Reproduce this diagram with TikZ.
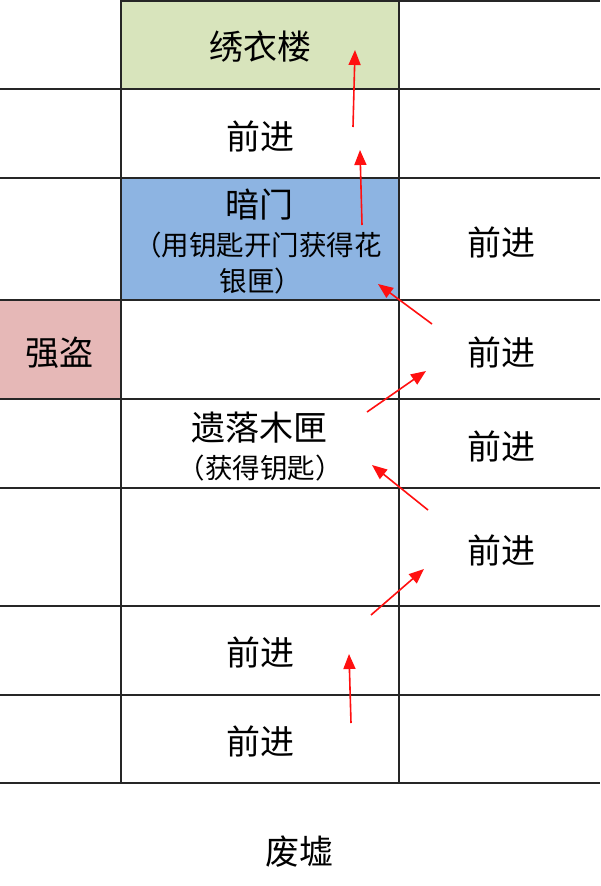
\documentclass[tikz,border=0pt]{standalone}
\usepackage{fontspec}
\setmainfont{Noto Sans CJK SC}
\usetikzlibrary{arrows.meta}
\definecolor{gridc}{HTML}{262626}
\definecolor{greencell}{HTML}{D8E4BC}
\definecolor{bluecell}{HTML}{8DB4E2}
\definecolor{pinkcell}{HTML}{E6B8B7}
\definecolor{arrowred}{HTML}{FF1010}
\begin{document}
\begin{tikzpicture}[x=1pt,y=-1pt,
  gridline/.style={draw=gridc,line width=1.9pt},
  lbl/.style={inner sep=0pt,font=\fontsize{34}{40}\selectfont},
  sublbl/.style={inner sep=0pt,font=\fontsize{27.5}{32}\selectfont},
  redarrow/.style={draw=arrowred,line width=1.6pt,-{Triangle[length=15pt,width=12pt]}}]
\useasboundingbox (0,0) rectangle (600,886);
\fill[white] (0,0) rectangle (600,886);
% cell fills
\fill[greencell] (121,0) rectangle (399,89);
\fill[bluecell] (121,178) rectangle (399,300);
\fill[pinkcell] (0,300) rectangle (121,399);
% grid
\draw[gridline] (121,1) -- (600,1);
\foreach \yy in {89,178,300,399,488,606,695,783}
  \draw[gridline] (0,\yy) -- (600,\yy);
\draw[gridline] (121,0) -- (121,783);
\draw[gridline] (399,0) -- (399,783);
% labels
\node[lbl] (xiuyilou) at (260,47) {绣衣楼};
\node[lbl] (qj1) at (260,136) {前进};
\node[lbl] (anmen) at (259,205) {暗门};
\node[sublbl] (anmenA) at (258,245) {（用钥匙开门获得花};
\node[sublbl] (anmenB) at (261,281) {银匣）};
\node[lbl] (qiangdao) at (59,353) {强盗};
\node[lbl] (muxia) at (259,428) {遗落木匣};
\node[sublbl] (muxiaB) at (260,468) {（获得钥匙）};
\node[lbl] (qj2) at (260,652) {前进};
\node[lbl] (qj3) at (260,741) {前进};
\node[lbl] (feixu) at (299,852) {废墟};
\node[lbl] (r1) at (501,242) {前进};
\node[lbl] (r2) at (501,352) {前进};
\node[lbl] (r3) at (501,446) {前进};
\node[lbl] (r4) at (501,550) {前进};
% arrow end points
\coordinate (a7s) at (351,723); \coordinate (a7e) at (349,654);
\coordinate (a6s) at (371,615); \coordinate (a6e) at (424,569);
\coordinate (a5s) at (428,510); \coordinate (a5e) at (372,465);
\coordinate (a4s) at (367,412); \coordinate (a4e) at (426,371);
\coordinate (a3s) at (432,324); \coordinate (a3e) at (378,284);
\coordinate (a2s) at (362,225); \coordinate (a2e) at (360,150);
\coordinate (a1s) at (353,127); \coordinate (a1e) at (355,50);
\draw[redarrow] (a7s) -- (a7e);
\draw[redarrow] (a6s) -- (a6e);
\draw[redarrow] (a5s) -- (a5e);
\draw[redarrow] (a4s) -- (a4e);
\draw[redarrow] (a3s) -- (a3e);
\draw[redarrow] (a2s) -- (a2e);
\draw[redarrow] (a1s) -- (a1e);
\end{tikzpicture}
\end{document}
